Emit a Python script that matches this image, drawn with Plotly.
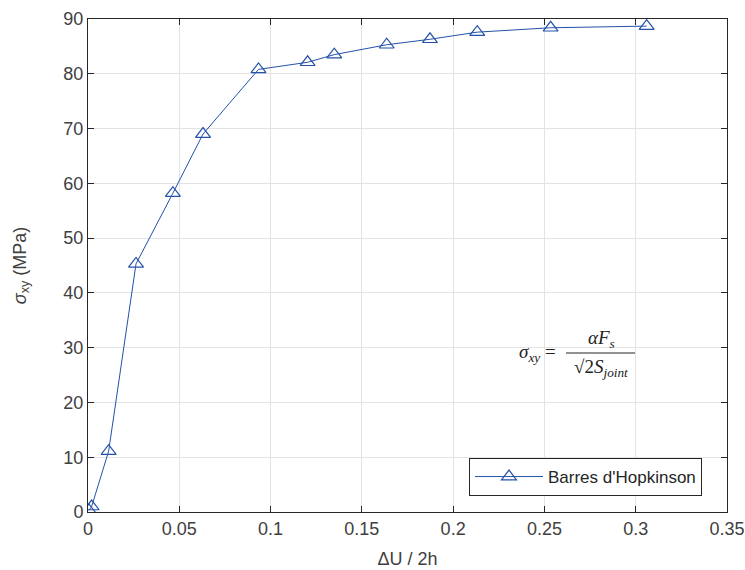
import plotly.graph_objects as go

# Data
strain = [0.0005, 0.002, 0.0113, 0.0263, 0.0465, 0.063, 0.0934, 0.1203, 0.1349,
          0.1636, 0.1873, 0.2132, 0.2534, 0.306]
stress = [0.3, 1.0, 11.1, 45.3, 58.2, 69.0, 80.8, 82.1, 83.5,
          85.3, 86.3, 87.6, 88.4, 88.7]
series_name = "Barres d'Hopkinson"
x_ticks = [0, 0.05, 0.1, 0.15, 0.2, 0.25, 0.3, 0.35]
x_ticklabels = ["0", "0.05", "0.1", "0.15", "0.2", "0.25", "0.3", "0.35"]
y_ticks = [0, 10, 20, 30, 40, 50, 60, 70, 80, 90]

blue = "#2452A8"
axis_col = "#262626"
grid_col = "#E3E3E3"
font_fam = "Liberation Sans, Arial, sans-serif"

# plot area in page px: x 88..727, y 19..512
PX0, PX1, PY0, PY1 = 88, 727, 19, 512
def px(x):
    return (x - PX0) / (PX1 - PX0)
def py(y):
    return (PY1 - y) / (PY1 - PY0)

fig = go.Figure()
fig.add_trace(go.Scatter(
    x=strain, y=stress, mode="lines+markers", name=series_name,
    line=dict(color=blue, width=1),
    marker=dict(symbol="triangle-up-open", size=13, color=blue, line=dict(width=1.2, color=blue)),
))

axis_common = dict(
    showline=True, linecolor=axis_col, linewidth=1, mirror="ticks",
    ticks="inside", ticklen=6, tickcolor=axis_col, tickwidth=1,
    showgrid=True, gridcolor=grid_col, gridwidth=1, zeroline=False,
    automargin=False,
    tickfont=dict(family=font_fam, size=18, color="#404040"),
)

fig.update_xaxes(range=[0, 0.35], tickvals=x_ticks, ticktext=x_ticklabels,
                 title=dict(text="ΔU / 2h", font=dict(family=font_fam, size=18, color="#404040"), standoff=14),
                 **axis_common)
fig.update_yaxes(range=[0, 90], tickvals=y_ticks,
                 title=dict(text="<i>σ</i><sub>xy</sub> (MPa)", font=dict(family=font_fam, size=18, color="#404040"), standoff=32),
                 **axis_common)

serif = "Liberation Serif, DejaVu Serif, serif"
# formula: sigma_xy = alpha F_s / (sqrt(2) S_joint)
fig.add_annotation(xref="paper", yref="paper", x=px(558), y=py(353),
                   xanchor="right", yanchor="middle", showarrow=False,
                   text="<i>σ<sub>xy</sub></i> =", font=dict(family=serif, size=19, color="#222"))
fig.add_annotation(xref="paper", yref="paper", x=px(601), y=py(353),
                   xanchor="center", yanchor="bottom", showarrow=False,
                   text="<i>αF<sub>s</sub></i>", font=dict(family=serif, size=19, color="#222"))
fig.add_annotation(xref="paper", yref="paper", x=px(601), y=py(354),
                   xanchor="center", yanchor="top", showarrow=False,
                   text="√2<i>S<sub>joint</sub></i>", font=dict(family=serif, size=19, color="#222"))
fig.add_shape(type="line", xref="paper", yref="paper",
              x0=px(566), x1=px(635), y0=py(353), y1=py(353),
              line=dict(color="#222", width=1))

fig.update_layout(
    width=745, height=570,
    margin=dict(l=88, r=18, t=19, b=58, autoexpand=False),
    plot_bgcolor="white", paper_bgcolor="white",
    font=dict(family=font_fam, size=17, color="#262626"),
    showlegend=True,
    legend=dict(x=px(702), y=py(477), xanchor="right", yanchor="middle",
                bgcolor="white", bordercolor=axis_col, borderwidth=1, itemwidth=68,
                font=dict(family=font_fam, size=17, color="#262626")),
)

fig.write_html("out.html", config={"displayModeBar": False},
               post_script="document.body.style.margin='0';document.body.style.overflow='hidden';")
